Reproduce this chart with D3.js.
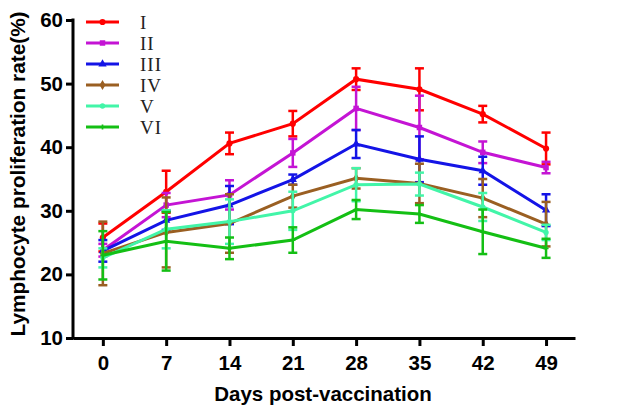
<!DOCTYPE html>
<html><head><meta charset="utf-8">
<script src="https://cdn.jsdelivr.net/npm/d3@7"></script>
<style>body{margin:0;background:#fff}svg{display:block}</style>
</head><body>
<svg id="c" width="630" height="413"></svg>
<script>
const days = [0, 7, 14, 21, 28, 35, 42, 49];
const seriesNames = ["I", "II", "III", "IV", "V", "VI"];
const colors = ["#ff0000", "#c414d4", "#1414e6", "#9a5f22", "#42f5a8", "#14bf14"];
const symbols = ["circle", "square", "triangle", "diamond", "circle", "cross"];
const valuesI   = [25.8, 33.0, 40.6, 43.7, 50.7, 49.1, 45.2, 39.8];
const valuesII  = [23.8, 30.9, 32.5, 39.1, 46.1, 43.1, 39.2, 36.8];
const valuesIII = [23.7, 28.5, 30.9, 34.9, 40.5, 38.1, 36.3, 30.1];
const valuesIV  = [23.3, 26.6, 28.0, 32.3, 35.1, 34.3, 32.0, 27.9];
const valuesV   = [22.6, 27.1, 28.3, 30.0, 34.1, 34.2, 30.6, 26.6];
const valuesVI  = [23.0, 25.2, 24.1, 25.4, 30.2, 29.5, 26.7, 24.1];
const errI   = [2.2, 3.3, 1.7, 2.0, 1.7, 3.3, 1.3, 2.5];
const errII  = [1.0, 1.9, 2.3, 2.2, 3.4, 5.0, 1.7, 0.9];
const errIII = [1.7, 1.5, 3.0, 0.8, 2.2, 3.6, 2.2, 2.5];
const errIV  = [5.0, 5.5, 4.6, 1.8, 1.6, 3.1, 3.0, 3.5];
const errV   = [1.5, 3.0, 3.5, 3.0, 2.6, 1.8, 2.2, 1.2];
const errVI  = [3.8, 4.6, 1.7, 2.0, 1.5, 1.4, 3.5, 1.5];
const yTicks = [10, 20, 30, 40, 50, 60];

const allValues = [valuesI, valuesII, valuesIII, valuesIV, valuesV, valuesVI];
const allErr = [errI, errII, errIII, errIV, errV, errVI];

const svg = d3.select("#c");
const x = d3.scaleLinear().domain([-3.3, 52.2]).range([73, 575]);
const y = d3.scaleLinear().domain([10, 60]).range([338, 20]);
const sans = "Liberation Sans, Arial, sans-serif";

// axes
const yAxis = svg.append("g").attr("transform", "translate(73,0)")
  .call(d3.axisLeft(y).tickValues(yTicks).tickSize(7).tickPadding(3).tickSizeOuter(0));
const xAxis = svg.append("g").attr("transform", "translate(0,338)")
  .call(d3.axisBottom(x).tickValues(days).tickSize(8).tickPadding(9).tickSizeOuter(0));
[yAxis, xAxis].forEach(a => {
  a.selectAll("path,line").attr("stroke", "#000").attr("stroke-width", 3);
  a.selectAll("text").attr("fill", "#000").attr("font-family", sans)
    .attr("font-weight", "bold").attr("font-size", 20.5);
});
yAxis.select("path").attr("d", `M0,${y(60)-1.5}V${y(10)+1.5}`);

svg.append("text").attr("x", 323).attr("y", 401).attr("text-anchor", "middle")
  .attr("font-family", sans).attr("font-weight", "bold")
  .attr("font-size", 20.5).text("Days post-vaccination");
svg.append("text").attr("transform", "translate(25,174) rotate(-90)").attr("text-anchor", "middle")
  .attr("font-family", sans).attr("font-weight", "bold")
  .attr("font-size", 20.8).text("Lymphocyte proliferation rate(%)");

const symMap = {circle: d3.symbolCircle, square: d3.symbolSquare, triangle: d3.symbolTriangle,
  diamond: d3.symbolDiamond, cross: d3.symbolCross};
const symSize = [30, 30, 30, 30, 22, 14];
const line = d3.line().x(d => x(d[0])).y(d => y(d[1]));

allValues.forEach((vals, i) => {
  const g = svg.append("g");
  const c = colors[i];
  const pts = days.map((d, j) => [d, vals[j], allErr[i][j]]);
  pts.forEach(p => {
    const cx = x(p[0]);
    g.append("line").attr("x1", cx).attr("x2", cx).attr("y1", y(p[1] + p[2])).attr("y2", y(p[1] - p[2]))
      .attr("stroke", c).attr("stroke-width", 2.5);
    [p[1] + p[2], p[1] - p[2]].forEach(v => {
      g.append("line").attr("x1", cx - 4.5).attr("x2", cx + 4.5).attr("y1", y(v)).attr("y2", y(v))
        .attr("stroke", c).attr("stroke-width", 2.5);
    });
  });
  g.append("path").attr("d", line(pts)).attr("fill", "none").attr("stroke", c).attr("stroke-width", 3);
  pts.forEach(p => {
    g.append("path").attr("d", d3.symbol(symMap[symbols[i]], symSize[i])())
      .attr("transform", `translate(${x(p[0])},${y(p[1])})`).attr("fill", c);
  });
});

// legend
const lg = svg.append("g");
seriesNames.forEach((n, i) => {
  const ly = 22 + i * 21;
  lg.append("line").attr("x1", 86).attr("x2", 119).attr("y1", ly).attr("y2", ly)
    .attr("stroke", colors[i]).attr("stroke-width", 3);
  lg.append("path").attr("d", d3.symbol(symMap[symbols[i]], symSize[i])())
    .attr("transform", `translate(102.5,${ly})`).attr("fill", colors[i]);
  lg.append("text").attr("x", 140).attr("y", ly + 7).attr("font-family", "Liberation Serif, Times New Roman, serif")
    .attr("font-size", 19).attr("letter-spacing", 1).attr("fill", "#222").text(n);
});
</script>
</body></html>
